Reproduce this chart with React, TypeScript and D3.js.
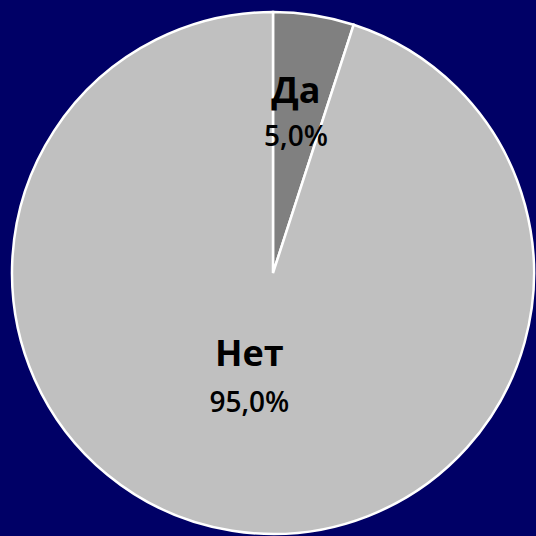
import React from "react";
import * as d3 from "d3";

const categories = ["Да", "Нет"];
const values = [5.0, 95.0];
const percentLabels = ["5,0%", "95,0%"];
const colors = ["#808080", "#c0c0c0"];

const W = 536;
const H = 536;

export default function App() {
  const cx = 273;
  const cy = 273;
  const r = 261;
  const pie = d3.pie<number>().sort(null).value((d) => d);
  const arcs = pie(values);
  const arc = d3.arc<d3.PieArcDatum<number>>().innerRadius(0).outerRadius(r);
  const labelRadius = [0.66 * r, 0.36 * r];
  const labelDx = [-4, -9];
  const lineGap = [43, 46];

  return (
    <div style={{ position: "fixed", left: 0, top: 0, width: W, height: H }}>
      <svg width={W} height={H} style={{ display: "block" }}>
        <rect x={0} y={0} width={W} height={H} fill="#000066" />
        <g transform={`translate(${cx},${cy})`}>
          {arcs.map((a, i) => (
            <path key={i} d={arc(a) || ""} fill={colors[i]} stroke="#ffffff" strokeWidth={2.5} />
          ))}
          {arcs.map((a, i) => {
            const la = d3.arc<d3.PieArcDatum<number>>().innerRadius(labelRadius[i]).outerRadius(labelRadius[i]);
            const [lx, ly] = la.centroid(a);
            return (
              <g key={"l" + i} fontFamily="'Open Sans', 'Noto Sans', sans-serif" fill="#000" textAnchor="middle">
                <text x={lx + labelDx[i]} y={ly} fontSize={36} fontWeight="bold">{categories[i]}</text>
                <text x={lx + labelDx[i]} y={ly + lineGap[i]} fontSize={28} fontWeight={600}>{percentLabels[i]}</text>
              </g>
            );
          })}
        </g>
      </svg>
    </div>
  );
}
